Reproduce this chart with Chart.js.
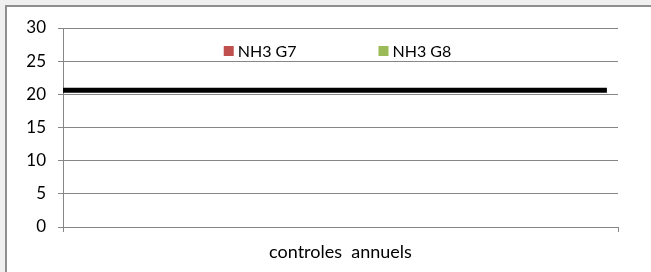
<!DOCTYPE html>
<html>
<head>
<meta charset="utf-8">
<script src="https://cdn.jsdelivr.net/npm/chart.js@4"></script>
<style>
  body { margin: 0; background: #f0f0f0; }
  #frame { position: absolute; left: 5px; top: 5px; width: 700px; height: 300px; background: #fff; border-left: 2px solid #8f8f8f; border-top: 2px solid #8f8f8f; }
  #chart { position: absolute; left: 0; top: 0; }
</style>
</head>
<body>
<div id="frame"></div>
<canvas id="chart" width="651" height="272"></canvas>
<script>
// data
const categories = ['controles  annuels'];
const g7Values = [null];
const g8Values = [null];
const seuilX = [0, 0.98];
const seuilY = [20.6, 20.6];
const yTicks = [0, 5, 10, 15, 20, 25, 30];

const FONT = 'Lato';

// legend drawn inside the plot area, like the excel one
const innerLegend = {
    id: 'innerLegend',
    afterDraw(chart) {
        const ctx = chart.ctx;
        const area = chart.chartArea;
        const items = chart.data.datasets.filter(d => d.inLegend);
        ctx.save();
        ctx.font = '16px ' + FONT;
        ctx.textBaseline = 'middle';
        const box = 10, gap = 4, spacing = 82;
        const widths = items.map(d => box + gap + ctx.measureText(d.label).width);
        const total = widths.reduce((a, b) => a + b, 0) + spacing * (items.length - 1);
        let x = (area.left + area.right) / 2 - total / 2 - 3;
        const y = area.top + 23;
        items.forEach((d, i) => {
            ctx.fillStyle = d.backgroundColor;
            ctx.fillRect(x, y - 5, box, box);
            ctx.fillStyle = '#000';
            ctx.fillText(d.label, x + box + gap, y + 1);
            x += widths[i] + spacing;
        });
        ctx.restore();
    }
};

new Chart(document.getElementById('chart'), {
    data: {
        labels: categories,
        datasets: [
            { type: 'bar', label: 'NH3 G7', data: g7Values, backgroundColor: '#C0504D', inLegend: true },
            { type: 'bar', label: 'NH3 G8', data: g8Values, backgroundColor: '#9BBB59', inLegend: true },
            {
                type: 'line', label: 'seuil', xAxisID: 'xl',
                data: seuilX.map((x, i) => ({ x: x, y: seuilY[i] })),
                borderColor: '#000', borderWidth: 5, pointRadius: 0, clip: false
            }
        ]
    },
    options: {
        responsive: false,
        animation: false,
        layout: { padding: { left: 0, top: 28, right: 33, bottom: 0 } },
        plugins: { legend: { display: false }, tooltip: { enabled: false } },
        scales: {
            x: {
                offset: true,
                grid: { offset: true, drawOnChartArea: false, tickLength: 5, color: '#868686' },
                border: { color: '#868686' },
                ticks: { color: '#000', font: { family: FONT, size: 18 }, padding: 9, maxRotation: 0 },
                afterFit: s => { s.height = 45; }
            },
            xl: { type: 'linear', display: false, min: 0, max: 1 },
            y: {
                min: 0, max: 30,
                grid: { color: '#868686', tickLength: 5 },
                border: { color: '#868686' },
                afterBuildTicks: s => { s.ticks = yTicks.map(v => ({ value: v })); },
                ticks: { color: '#000', font: { family: FONT, size: 17 }, padding: 12 },
                afterFit: s => { s.width = 63; }
            }
        }
    },
    plugins: [innerLegend]
});
</script>
</body>
</html>
